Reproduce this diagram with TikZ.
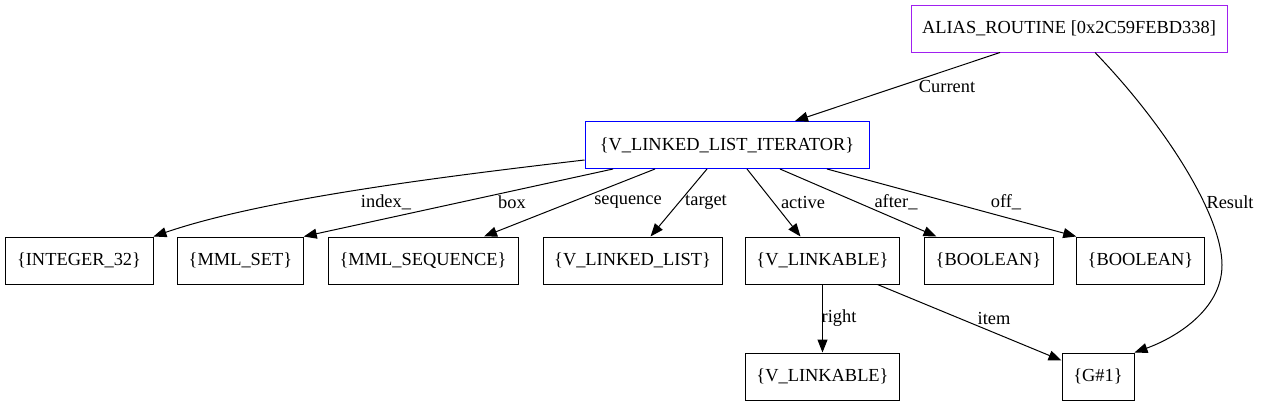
\documentclass[tikz,border=0pt]{standalone}
\usepackage{fontspec}
\setmainfont{Liberation Serif}
\usetikzlibrary{arrows.meta}
\definecolor{aliascol}{HTML}{A020F0}
\begin{document}
\begin{tikzpicture}[x=1pt,y=-1pt,
  box/.style={draw=black,line width=1pt,rectangle,minimum height=47pt,inner xsep=11pt,font=\fontsize{18.4}{22}\selectfont},
  lbl/.style={font=\fontsize{18.4}{22}\selectfont,inner sep=0pt},
  edge/.style={draw=black,line width=1pt,-{Triangle[length=13pt,width=10pt]}}]
\useasboundingbox (0,0) rectangle (1261,407);
% nodes
\node[box,draw=aliascol,minimum width=316pt] (al) at (1069,28.5) {ALIAS\_ROUTINE [0x2C59FEBD338]};
\node[box,draw=blue,minimum width=284pt] (it) at (727,145) {\{V\_LINKED\_LIST\_ITERATOR\}};
\node[box,minimum width=148pt] (int) at (79,260.5) {\{INTEGER\_32\}};
\node[box,minimum width=125pt] (set) at (240.5,260.5) {\{MML\_SET\}};
\node[box,minimum width=190pt] (seq) at (423,260.5) {\{MML\_SEQUENCE\}};
\node[box,minimum width=179pt] (ll) at (632.5,260.5) {\{V\_LINKED\_LIST\}};
\node[box,minimum width=151pt] (lk) at (822.5,260.5) {\{V\_LINKABLE\}};
\node[box,minimum width=129pt] (b1) at (988.5,260.5) {\{BOOLEAN\}};
\node[box,minimum width=127pt] (b2) at (1140.5,260.5) {\{BOOLEAN\}};
\node[box,minimum width=151pt] (lk2) at (822.5,376.5) {\{V\_LINKABLE\}};
\node[box,minimum width=72pt] (g) at (1098,376.5) {\{G\#1\}};
% edges
\draw[edge] ([xshift=-69pt]al.south) -- ([xshift=68pt]it.north);
\draw[edge] ([xshift=26pt]al.south) .. controls (1165,125) and (1222,215) .. (1222,265) .. controls (1222,310) and (1175,338) .. (g.north east);
\draw[edge] ([yshift=-15pt]it.west) .. controls (430,178) and (260,200) .. (int.north east);
\draw[edge] ([xshift=-114pt]it.south) -- (set.north east);
\draw[edge] ([xshift=-72pt]it.south) -- ([xshift=61pt]seq.north);
\draw[edge] ([xshift=-20pt]it.south) -- ([xshift=18pt]ll.north);
\draw[edge] ([xshift=20pt]it.south) -- ([xshift=-22pt]lk.north);
\draw[edge] ([xshift=53pt]it.south) -- ([xshift=-52pt]b1.north);
\draw[edge] ([xshift=100pt]it.south) -- (b2.north west);
\draw[edge] (lk.south) -- (lk2.north);
\draw[edge] ([xshift=55pt]lk.south) -- ([yshift=16pt]g.west);
% labels
\node[lbl] (lcur) at (947,86) {Current};
\node[lbl] (lres) at (1230,202) {Result};
\node[lbl] (lidx) at (386,202) {index\_};
\node[lbl] (lbox) at (512,202) {box};
\node[lbl] (lseq) at (628,202) {sequence};
\node[lbl] (ltar) at (706,202) {target};
\node[lbl] (lact) at (803,202) {active};
\node[lbl] (laft) at (896,202) {after\_};
\node[lbl] (loff) at (1006,202) {off\_};
\node[lbl] (lrig) at (839,318) {right};
\node[lbl] (litm) at (994,318) {item};
\end{tikzpicture}
\end{document}
